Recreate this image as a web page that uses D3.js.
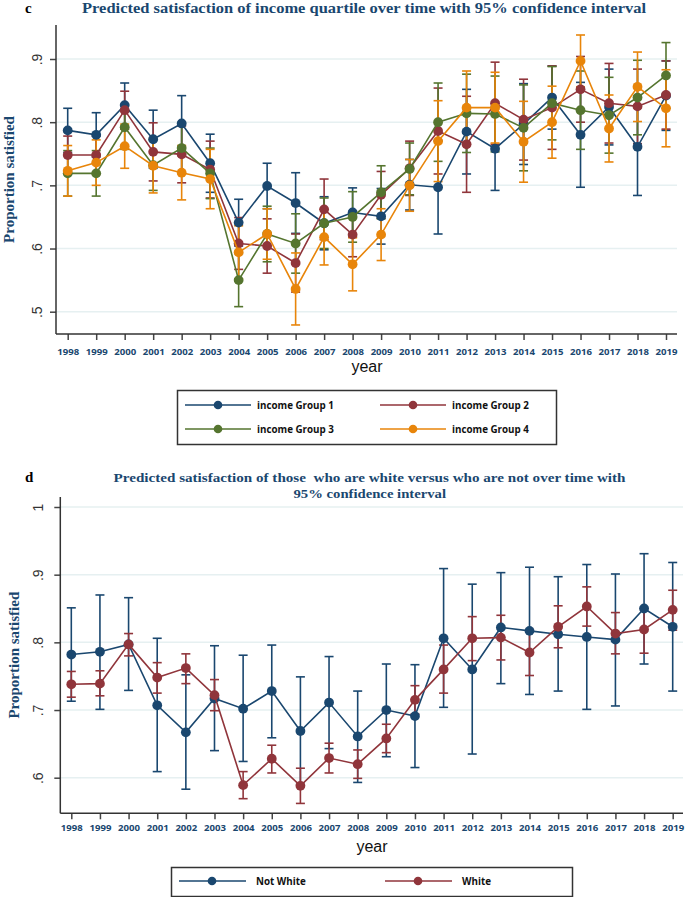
<!DOCTYPE html>
<html><head><meta charset="utf-8">
<script src="https://cdn.jsdelivr.net/npm/d3@7"></script>
<style>
html,body{margin:0;padding:0;background:#fff;}
svg{display:block;}
text{white-space:pre;}
</style></head>
<body>
<svg id="chart" width="685" height="897"></svg>
<script>
// ---------- DATA ----------
const years = d3.range(1998, 2020);
const yearLabels = years.map(String);

// Panel c: income quartiles (predicted value and half-width of 95% CI)
const incomeGroups = ["income Group 1", "income Group 2", "income Group 3", "income Group 4"];
const g1 = [.787,.780,.827,.773,.798,.735,.641,.699,.672,.640,.657,.651,.701,.697,.785,.758,.797,.839,.780,.824,.761,.842];
const g1ci = [.035,.035,.035,.046,.044,.046,.037,.036,.048,.042,.039,.044,.040,.074,.067,.066,.064,.050,.083,.060,.077,.055];
const g2 = [.748,.748,.819,.753,.749,.725,.608,.604,.577,.662,.622,.685,.727,.786,.765,.830,.804,.823,.852,.830,.825,.843];
const g2ci = [.030,.030,.030,.046,.045,.045,.041,.043,.046,.048,.035,.037,.043,.068,.076,.065,.064,.066,.052,.063,.059,.054];
const g3 = [.719,.719,.792,.732,.759,.719,.550,.623,.608,.640,.650,.689,.726,.800,.814,.813,.791,.830,.819,.811,.839,.874];
const g3ci = [.036,.036,.035,.040,.040,.040,.042,.044,.047,.040,.040,.042,.041,.062,.062,.060,.068,.058,.062,.060,.059,.052];
const g4 = [.723,.736,.762,.731,.720,.710,.594,.623,.536,.618,.575,.622,.700,.770,.823,.823,.769,.800,.897,.790,.856,.822];
const g4ci = [.040,.036,.035,.043,.043,.047,.042,.040,.057,.044,.042,.041,.041,.064,.058,.056,.064,.057,.041,.053,.055,.061];
const topTicks = [.5,.6,.7,.8,.9];
const topTickLabels = [".5",".6",".7",".8",".9"];

// Panel d: white vs not white (predicted value, lower and upper 95% CI)
const raceGroups = ["Not White", "White"];
const notWhite   = [.782,.786,.797,.707,.667,.717,.702,.728,.669,.711,.661,.700,.691,.806,.760,.822,.817,.812,.808,.804,.850,.823];
const notWhiteLo = [.713,.701,.729,.609,.583,.640,.624,.659,.590,.643,.593,.631,.615,.704,.635,.739,.723,.728,.701,.706,.768,.728];
const notWhiteHi = [.851,.870,.866,.806,.752,.795,.781,.796,.749,.779,.728,.768,.767,.909,.886,.903,.911,.897,.915,.901,.931,.918];
const white   = [.738,.739,.797,.748,.762,.722,.589,.628,.588,.629,.620,.658,.715,.760,.806,.807,.785,.823,.853,.813,.819,.848];
const whiteLo = [.719,.721,.780,.725,.739,.699,.569,.607,.562,.607,.599,.637,.694,.725,.773,.774,.751,.792,.824,.783,.784,.818];
const whiteHi = [.757,.758,.813,.770,.783,.745,.609,.648,.614,.651,.641,.679,.736,.796,.838,.840,.819,.854,.882,.844,.850,.877];
const botTicks = [.6,.7,.8,.9,1];
const botTickLabels = [".6",".7",".8",".9","1"];

// ---------- STYLE ----------
const C = {navy:"#1a476f", maroon:"#90353b", green:"#55752f", orange:"#e8850a"};
const titleColor = "#1a476f";
const svg = d3.select("#chart");

function panel(cfg){
  const g = svg.append("g");
  const x = d3.scaleLinear().domain([1998,2019]).range(cfg.xr);
  const y = d3.scaleLinear().domain(cfg.yd).range(cfg.yr);
  // gridlines
  g.selectAll(".grid").data(cfg.ticks).join("line")
    .attr("x1", cfg.axX).attr("x2", cfg.axEnd)
    .attr("y1", d=>y(d)).attr("y2", d=>y(d))
    .attr("stroke", "#e6f0f1").attr("stroke-width", 1.5);
  // y axis
  const ya = d3.axisLeft(y).tickValues(cfg.ticks).tickSize(6).tickFormat((d,i)=>cfg.tickLabels[i]);
  const yg = g.append("g").attr("transform", `translate(${cfg.axX},0)`).call(ya);
  yg.select(".domain").remove();
  yg.selectAll(".tick line").attr("stroke","#444").attr("stroke-width",1.5);
  yg.selectAll(".tick text").attr("font-family","Liberation Sans, Arial, sans-serif")
    .attr("font-size",14).attr("fill","#333")
    .attr("text-anchor","middle").attr("dy",null).attr("x",null)
    .attr("transform", `translate(${cfg.tickLblX - cfg.axX},0) rotate(-90)`);
  g.append("line").attr("x1",cfg.axX).attr("x2",cfg.axX).attr("y1",cfg.axTop).attr("y2",cfg.axBot)
    .attr("stroke","#333").attr("stroke-width",1.5);
  // x axis
  const xa = d3.axisBottom(x).tickValues(years).tickSize(6).tickFormat((d,i)=>yearLabels[i]);
  const xg = g.append("g").attr("transform", `translate(0,${cfg.axBot})`).call(xa);
  xg.select(".domain").remove();
  xg.selectAll(".tick line").attr("stroke","#444").attr("stroke-width",1.5);
  xg.selectAll(".tick text").attr("font-family","Open Sans, sans-serif").attr("font-weight","bold")
    .attr("font-size",9.6).attr("fill",titleColor).attr("dy",null).attr("y", cfg.yearBase - cfg.axBot);
  g.append("line").attr("x1",cfg.axX).attr("x2",cfg.axEnd).attr("y1",cfg.axBot).attr("y2",cfg.axBot)
    .attr("stroke","#333").attr("stroke-width",1.5);
  // axis titles
  g.append("text").attr("x", cfg.yearX).attr("y", cfg.yearY).attr("text-anchor","middle")
    .attr("font-family","Liberation Sans, Arial, sans-serif").attr("font-size",16).attr("fill","#111").text("year");
  g.append("text").attr("transform",`translate(${cfg.yTitleX},${(cfg.axTop+cfg.axBot)/2}) rotate(-90)`)
    .attr("text-anchor","middle").attr("font-family","Liberation Serif, serif").attr("font-weight","bold")
    .attr("font-size",15).attr("fill",titleColor).text("Proportion satisfied");
  // CIs
  cfg.series.forEach(s=>{
    const cg = g.append("g").attr("stroke", s.color).attr("stroke-width",1.6).attr("fill","none");
    years.forEach((yr,i)=>{
      const lo = s.lo[i], hi = s.hi[i], xx = x(yr);
      cg.append("line").attr("x1",xx).attr("x2",xx).attr("y1",y(lo)).attr("y2",y(hi));
      cg.append("line").attr("x1",xx-4.5).attr("x2",xx+4.5).attr("y1",y(lo)).attr("y2",y(lo));
      cg.append("line").attr("x1",xx-4.5).attr("x2",xx+4.5).attr("y1",y(hi)).attr("y2",y(hi));
    });
  });
  // lines + markers
  cfg.series.forEach(s=>{
    const line = d3.line().x((d,i)=>x(years[i])).y(d=>y(d));
    g.append("path").datum(s.v).attr("d", line).attr("fill","none").attr("stroke",s.color).attr("stroke-width",1.6);
    g.selectAll(null).data(s.v).join("circle").attr("cx",(d,i)=>x(years[i])).attr("cy",d=>y(d))
      .attr("r",4.9).attr("fill",s.color);
  });
  return g;
}

const mk = (v,ci) => ({lo:v.map((d,i)=>d-ci[i]), hi:v.map((d,i)=>d+ci[i])});

// ---------- Panel c ----------
const topSeries = [
  {name:incomeGroups[0], color:C.navy, v:g1, ...mk(g1,g1ci)},
  {name:incomeGroups[1], color:C.maroon, v:g2, ...mk(g2,g2ci)},
  {name:incomeGroups[2], color:C.green, v:g3, ...mk(g3,g3ci)},
  {name:incomeGroups[3], color:C.orange, v:g4, ...mk(g4,g4ci)}
];
panel({xr:[67.7,666], yd:[.5,.9], yr:[311.7,59], ticks:topTicks, tickLabels:topTickLabels,
  axX:56, axTop:25, axBot:334, axEnd:677, tickLblX:42, yearBase:355, yearX:367, yearY:372, yTitleX:14,
  series:topSeries});

svg.append("text").attr("x",25).attr("y",13).attr("font-family","Liberation Serif, serif").attr("font-weight","bold")
  .attr("font-size",15).attr("fill","#000").text("c");
svg.append("text").attr("x",82).attr("y",13).attr("font-family","Liberation Serif, serif").attr("font-weight","bold")
  .attr("font-size",14.5).attr("fill",titleColor).attr("textLength",564).attr("lengthAdjust","spacingAndGlyphs")
  .text("Predicted satisfaction of income quartile over time with 95% confidence interval");

// legend c
const lg1 = svg.append("g");
lg1.append("rect").attr("x",177.5).attr("y",390.5).attr("width",379).attr("height",54)
  .attr("fill","#fff").attr("stroke","#333").attr("stroke-width",1.5);
const legPos = [[185,405],[380,405],[185,429],[380,429]];
topSeries.forEach((s,i)=>{
  const [lx,ly] = legPos[i];
  lg1.append("line").attr("x1",lx).attr("x2",lx+66).attr("y1",ly).attr("y2",ly).attr("stroke",s.color).attr("stroke-width",1.6);
  lg1.append("circle").attr("cx",lx+33).attr("cy",ly).attr("r",4.3).attr("fill",s.color);
  lg1.append("text").attr("x",lx+72).attr("y",ly+3.5).attr("font-family","Open Sans, sans-serif").attr("font-weight","bold")
    .attr("font-size",9.8).attr("fill","#111").text(s.name);
});

// ---------- Panel d ----------
const botSeries = [
  {name:raceGroups[0], color:C.navy, v:notWhite, lo:notWhiteLo, hi:notWhiteHi},
  {name:raceGroups[1], color:C.maroon, v:white, lo:whiteLo, hi:whiteHi}
];
panel({xr:[71.3,672.7], yd:[.6,1], yr:[777.7,507], ticks:botTicks, tickLabels:botTickLabels,
  axX:60.3, axTop:497, axBot:813.3, axEnd:683, tickLblX:43, yearBase:831.5, yearX:372, yearY:852, yTitleX:19,
  series:botSeries});

svg.append("text").attr("x",25).attr("y",481.5).attr("font-family","Liberation Serif, serif").attr("font-weight","bold")
  .attr("font-size",15).attr("fill","#000").text("d");
svg.append("text").attr("x",113.5).attr("y",482).attr("font-family","Liberation Serif, serif").attr("font-weight","bold")
  .attr("font-size",13.5).attr("fill",titleColor).attr("textLength",512).attr("lengthAdjust","spacingAndGlyphs")
  .text("Predicted satisfaction of those  who are white versus who are not over time with");
svg.append("text").attr("x",293.5).attr("y",497.5).attr("font-family","Liberation Serif, serif").attr("font-weight","bold")
  .attr("font-size",13.5).attr("fill",titleColor).attr("textLength",152.5).attr("lengthAdjust","spacingAndGlyphs")
  .text("95% confidence interval");

// legend d
const lg2 = svg.append("g");
lg2.append("rect").attr("x",171.5).attr("y",867.5).attr("width",401).attr("height",29)
  .attr("fill","#fff").attr("stroke","#333").attr("stroke-width",1.5);
const legPos2 = [[179,881],[385,881]];
botSeries.forEach((s,i)=>{
  const [lx,ly] = legPos2[i];
  lg2.append("line").attr("x1",lx).attr("x2",lx+67).attr("y1",ly).attr("y2",ly).attr("stroke",s.color).attr("stroke-width",1.6);
  lg2.append("circle").attr("cx",lx+33).attr("cy",ly).attr("r",4.3).attr("fill",s.color);
  lg2.append("text").attr("x",lx+77).attr("y",ly+3.5).attr("font-family","Open Sans, sans-serif").attr("font-weight","bold")
    .attr("font-size",9.8).attr("fill","#111").text(s.name);
});
</script>
</body></html>
